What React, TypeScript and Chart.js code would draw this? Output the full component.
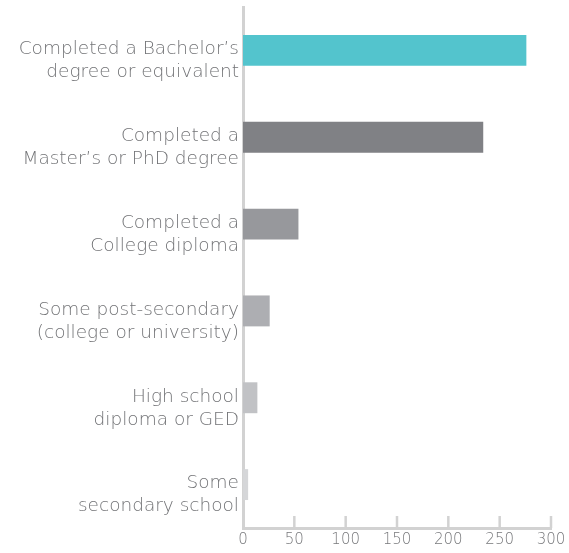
import React, { useEffect, useRef } from "react";
import { Chart, registerables } from "chart.js";

Chart.register(...registerables);

const categories: string[][] = [
  ["Completed a Bachelor’s", "degree or equivalent"],
  ["Completed a", "Master’s or PhD degree"],
  ["Completed a", "College diploma"],
  ["Some post-secondary", "(college or university)"],
  ["High school", "diploma or GED"],
  ["Some", "secondary school"],
];
const values: number[] = [276, 234, 54, 26, 14, 5];
const barColors: string[] = ["#53c4cd", "#808185", "#97989c", "#adaeb2", "#c1c2c5", "#d5d6d8"];
const xTicks: number[] = [0, 50, 100, 150, 200, 250, 300];

const innerTicks = {
  id: "innerTicks",
  afterDatasetsDraw(chart: any) {
    const x = chart.scales.x;
    const ctx = chart.ctx;
    const bottom = chart.chartArea.bottom;
    ctx.save();
    ctx.strokeStyle = "#d2d2d2";
    ctx.lineWidth = 2.5;
    xTicks.forEach((t) => {
      if (t === 0) return;
      const px = x.getPixelForValue(t);
      ctx.beginPath();
      ctx.moveTo(px, bottom - 12);
      ctx.lineTo(px, bottom);
      ctx.stroke();
    });
    ctx.restore();
  },
};

export default function App() {
  const ref = useRef<HTMLCanvasElement>(null);
  useEffect(() => {
    if (!ref.current) return;
    const chart = new Chart(ref.current, {
      type: "bar",
      data: {
        labels: categories,
        datasets: [
          {
            data: values,
            backgroundColor: barColors,
            borderWidth: 0,
            categoryPercentage: 1,
            barPercentage: 0.356,
          },
        ],
      },
      plugins: [innerTicks],
      options: {
        indexAxis: "y",
        animation: false,
        responsive: true,
        maintainAspectRatio: false,
        layout: { padding: { top: 7, right: 18, left: 0, bottom: 0 } },
        plugins: { legend: { display: false }, tooltip: { enabled: false } },
        scales: {
          x: {
            min: 0,
            max: 300,
            afterBuildTicks: (s: any) => {
              s.ticks = xTicks.map((v) => ({ value: v }));
            },
            afterFit: (s: any) => {
              s.height = 25;
              s.paddingLeft = 0;
              s.paddingRight = 0;
            },
            grid: { display: false, drawTicks: false },
            border: { display: true, color: "#d2d2d2", width: 3 },
            ticks: {
              color: "#77787b",
              padding: 3,
              font: { family: "'DejaVu Sans'", size: 15, weight: 200 },
            },
          },
          y: {
            afterFit: (s: any) => {
              s.width = 243;
              s.paddingTop = 0;
              s.paddingBottom = 0;
            },
            grid: { display: false, drawTicks: false },
            border: { display: true, color: "#d2d2d2", width: 3 },
            ticks: {
              color: "#727376",
              padding: 4,
              labelOffset: 10.5,
              font: { family: "'DejaVu Sans'", size: 18.5, weight: 200, lineHeight: 1.24 },
            },
          },
        },
      },
    });
    return () => chart.destroy();
  }, []);
  return (
    <div style={{ position: "absolute", left: 0, top: 0, width: 569, height: 553 }}>
      <canvas ref={ref} />
    </div>
  );
}
